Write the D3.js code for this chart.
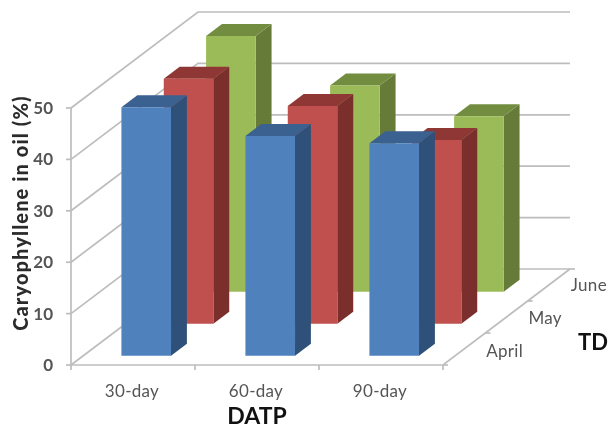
<!DOCTYPE html>
<html><head><meta charset="utf-8">
<script src="https://cdn.jsdelivr.net/npm/d3@7"></script>
<style>html,body{margin:0;padding:0;background:#fff}svg{display:block;filter:blur(0.5px)}</style>
</head><body><svg id="c" width="610" height="429"></svg>
<script>
const categories = ["30-day","60-day","90-day"];
const seriesNames = ["April","May","June"];
const april = [48.2,42.6,41.2];
const may = [47.5,42.2,35.6];
const june = [49.6,40.0,34.0];
const yTicks = [0,10,20,30,40,50];
const seriesValues = [april,may,june];
const colors = [
 {front:"#4F81BD",top:"#3A618F",side:"#2F5078"},
 {front:"#C0504D",top:"#8F3735",side:"#7B2F2D"},
 {front:"#9BBB59",top:"#728D40",side:"#667B38"}];

const svg = d3.select("#c");
const x = d3.scaleBand().domain(categories).range([71,443]);
const y = d3.scaleLinear().domain([0,50]).range([365,108]);
const depth = d3.scaleBand().domain(seriesNames).range([0,1]);
const dX = 127, dY = -96;
const barW = x.bandwidth()*0.4, barD = depth.bandwidth()*0.375;
const line = d3.line();
const grid = "#BDBDBD";
const P = (px,py,d)=>[px+dX*d, py+dY*d];

// walls
const wall = svg.append("g").attr("fill","none").attr("stroke",grid).attr("stroke-width",1.7);
yTicks.forEach(t=>{
  wall.append("path").attr("d",line([P(x.range()[0],y(t),0),P(x.range()[0],y(t),1),P(x.range()[1],y(t),1)]));
});
// floor and axes
wall.append("path").attr("d",line([[x.range()[0],y(0)],[x.range()[1],y(0)],P(x.range()[1],y(0),1)]));
wall.append("path").attr("d",line([[x.range()[0],y(50)],[x.range()[0],y(0)]]));
yTicks.forEach(t=>wall.append("path").attr("d",line([[x.range()[0]-5,y(t)],[x.range()[0],y(t)]])));
[...categories.map(c=>x(c)),x.range()[1]].forEach(v=>wall.append("path").attr("d",line([[v,y(0)],[v,y(0)+5]])));
[...seriesNames.map(s=>depth(s)),1].forEach(d=>{
  const p=P(x.range()[1],y(0),d);
  wall.append("path").attr("d",line([p,[p[0]+5,p[1]]]));
});

// bars, back to front
const bars = svg.append("g");
[2,1,0].forEach(si=>{
  const name = seriesNames[si], col = colors[si];
  const d0 = depth(name)+(depth.bandwidth()-barD)/2, d1 = d0+barD;
  categories.forEach((c,ci)=>{
    const xl = x(c)+(x.bandwidth()-barW)/2, xr = xl+barW;
    const yt = y(seriesValues[si][ci]), yb = y(0)+0.8;
    const g = bars.append("g");
    g.append("path").attr("fill",col.side).attr("d",line([P(xr,yt,d0),P(xr,yt,d1),P(xr,yb,d1),P(xr,yb,d0)])+"Z");
    g.append("path").attr("fill",col.top).attr("d",line([P(xl,yt,d0),P(xl,yt,d1),P(xr,yt,d1),P(xr,yt,d0)])+"Z");
    g.append("path").attr("fill",col.front).attr("d",line([P(xl,yt,d0),P(xr,yt,d0),P(xr,yb,d0),P(xl,yb,d0)])+"Z");
  });
});

// text
const font = "Lato,sans-serif";
const lab = "#555555";
const text = (tx,ty,s,size,fill,anchor,weight)=>svg.append("text").attr("x",tx).attr("y",ty).text(s)
  .attr("font-family",font).attr("font-size",size).attr("fill",fill).attr("text-anchor",anchor||"middle").attr("font-weight",weight||400);
yTicks.forEach(t=>text(53,y(t)+6,t,17,lab,"end",700));
categories.forEach(c=>text(x(c)+x.bandwidth()/2-1,397,c,17,lab).attr("letter-spacing",0.3));
seriesNames.forEach((s,i)=>{
  const p=P(x.range()[1],y(0),depth(s)+depth.bandwidth()/2);
  text(p[0]+22,p[1]+8-i,s,17,lab,"start").attr("letter-spacing",0.3);
});
text(257,424,"DATP",23,"#111","middle",700);
text(593,350,"TD",22,"#111","middle",700);
svg.append("text").attr("transform","translate(28,213) rotate(-90)").text("Caryophyllene in oil (%)")
  .attr("font-family",font).attr("font-size",20).attr("font-weight",900).attr("letter-spacing",1.1).attr("fill","#2b2b2b").attr("text-anchor","middle");
</script></body></html>
